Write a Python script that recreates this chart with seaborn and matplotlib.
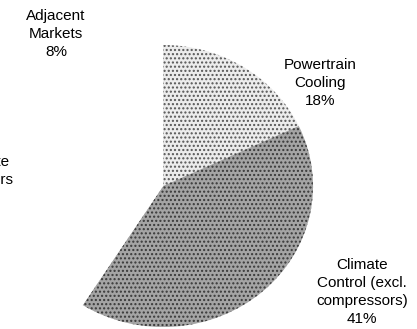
import matplotlib
matplotlib.use('Agg')
from matplotlib import pyplot as plt
import seaborn as sns

# segments, clockwise from 12 o'clock
segments = ['Powertrain Cooling', 'Climate Control (excl. compressors)', 'Bus Climate Compressors', 'Adjacent Markets']
shares = [18, 41, 33, 8]
label_text = ['Powertrain\nCooling\n18%',
              'Climate\nControl (excl.\ncompressors)\n41%',
              'Bus Climate\nCompressors\n33%',
              'Adjacent\nMarkets\n8%']

sns.set_theme(style='white')
plt.rcParams['font.family'] = ['Liberation Sans', 'DejaVu Sans']
plt.rcParams['hatch.linewidth'] = 1.0

fig = plt.figure(figsize=(4.17, 3.29), dpi=100)
ax = fig.add_axes([0, 0, 1, 1])

face = ['#ececec', '#a4a4a4', 'white', 'white']
hatch_col = ['#555555', '#383838', 'white', 'white']
hatches = ['....', '....', None, None]

wedges, _ = ax.pie(shares, startangle=90, counterclock=False, radius=1,
                   colors=face, wedgeprops=dict(linewidth=0))
for w, hc, h in zip(wedges, hatch_col, hatches):
    w.set_edgecolor(hc)
    if h:
        w.set_hatch(h)

# label positions (data units, pie radius = 1)
label_pos = [(1.047, 0.73), (1.327, -0.752), (-1.297, 0.043), (-0.713, 1.078)]
for (x, y), t in zip(label_pos, label_text):
    ax.text(x, y, t, ha='center', va='center', fontsize=11, linespacing=1.34, color='black')

# the scanned pie is slightly wider than tall
ax.set_xlim(-1.087, 1.693)
ax.set_ylim(-1.014, 1.319)
ax.set_aspect('auto')
ax.axis('off')

plt.savefig('out.png', dpi=100)
